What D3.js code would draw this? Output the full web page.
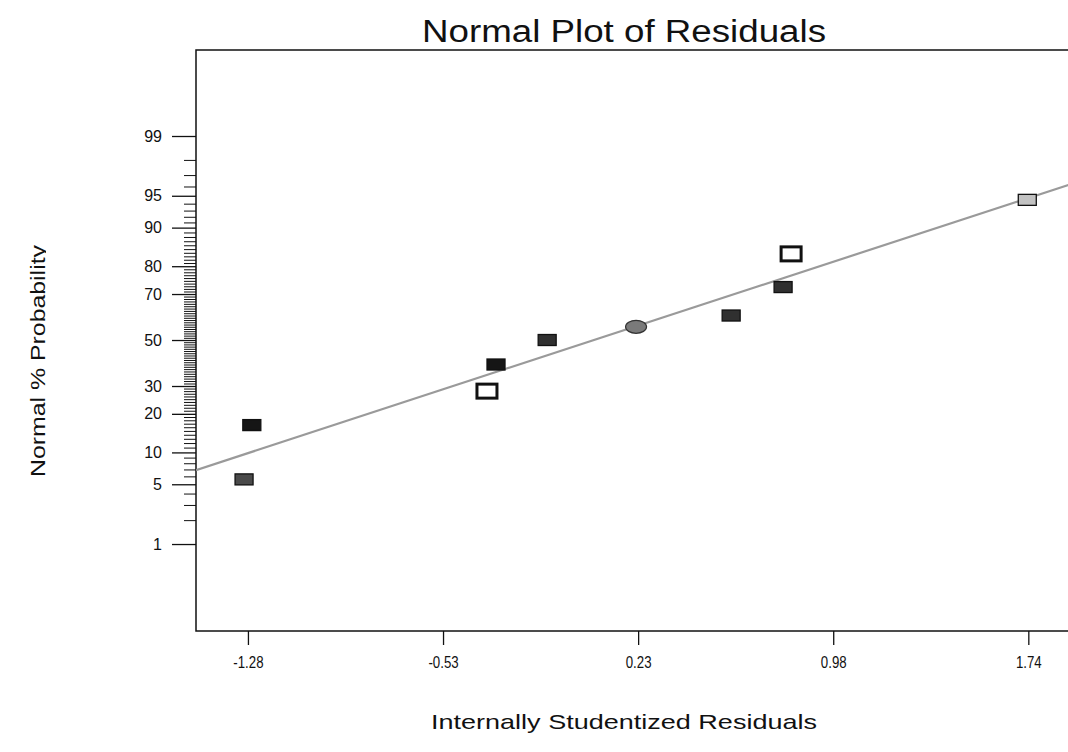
<!DOCTYPE html>
<html>
<head>
<meta charset="utf-8">
<script src="https://cdn.jsdelivr.net/npm/d3@7"></script>
<style>
  body { margin: 0; background: #fff; }
  text { font-family: "Liberation Sans", Arial, sans-serif; fill: #111; }
</style>
</head>
<body>
<script>
// Residuals (x) and their normal % probability (y)
const residuals = [-1.295, -1.265, -0.355, -0.32, -0.122, 0.222, 0.59, 0.791, 0.822, 1.736];
const probabilities = [5.6, 16.6, 28, 39, 50, 56, 61, 72.7, 83.7, 94.5];
// marker kind for each point (Design-Expert colours points by level)
const pointKind = ["dark3", "dark1", "open", "dark1", "dark2", "centre", "dark2", "dark2", "open", "light"];

// reference line, two ends
const lineX = [-1.481, 1.94];
const lineP = [6.9, 96.5];

// axis ticks
const xTickValues = [-1.28, -0.525, 0.23, 0.985, 1.74];
const xTickLabels = ["-1.28", "-0.53", "0.23", "0.98", "1.74"];
const yMajorP = [1, 5, 10, 20, 30, 50, 70, 80, 90, 95, 99];
const yMinorP = d3.range(2, 99).filter(p => !yMajorP.includes(p));

const width = 1068, height = 752;
const plotL = 196, plotT = 50, plotR = 1080, plotB = 631;

// inverse normal cdf (Acklam) so the y axis is a probability scale
function probit(p) {
  const a = [-39.69683028665376, 220.9460984245205, -275.9285104469687, 138.3577518672690, -30.66479806614716, 2.506628277459239];
  const b = [-54.47609879822406, 161.5858368580409, -155.6989798598866, 66.80131188771972, -13.28068155288572];
  const c = [-0.007784894002430293, -0.3223964580411365, -2.400758277161838, -2.549732539343734, 4.374664141464968, 2.938163982698783];
  const d = [0.007784695709041462, 0.3224671290700398, 2.445134137142996, 3.754408661907416];
  const pl = 0.02425;
  let q, r;
  if (p < pl) {
    q = Math.sqrt(-2 * Math.log(p));
    return (((((c[0]*q+c[1])*q+c[2])*q+c[3])*q+c[4])*q+c[5]) / ((((d[0]*q+d[1])*q+d[2])*q+d[3])*q+1);
  }
  if (p > 1 - pl) {
    q = Math.sqrt(-2 * Math.log(1 - p));
    return -(((((c[0]*q+c[1])*q+c[2])*q+c[3])*q+c[4])*q+c[5]) / ((((d[0]*q+d[1])*q+d[2])*q+d[3])*q+1);
  }
  q = p - 0.5; r = q * q;
  return (((((a[0]*r+a[1])*r+a[2])*r+a[3])*r+a[4])*r+a[5])*q / (((((b[0]*r+b[1])*r+b[2])*r+b[3])*r+b[4])*r+1);
}

const x = d3.scaleLinear().domain([-1.481, 1.94]).range([plotL, plotR]);
const z = d3.scaleLinear().domain([-3.318, 3.307]).range([plotB, plotT]);
const y = p => z(probit(p / 100));

const fills = d3.scaleOrdinal()
  .domain(["dark1", "dark2", "dark3", "open", "centre", "light"])
  .range(["#151515", "#303030", "#4a4a4a", "#ffffff", "#7a7a7a", "#c2c2c2"]);

const svg = d3.select("body").append("svg")
  .attr("width", width)
  .attr("height", height);

svg.append("rect").attr("width", width).attr("height", height).attr("fill", "#fff");

const defs = svg.append("defs");
defs.append("clipPath").attr("id", "plotclip")
  .append("rect").attr("x", plotL).attr("y", plotT).attr("width", plotR - plotL).attr("height", plotB - plotT);
defs.append("clipPath").attr("id", "ylabclip")
  .append("rect").attr("x", 0).attr("y", 0).attr("width", 46).attr("height", height);

// title
svg.append("text")
  .attr("x", 624).attr("y", 42)
  .attr("text-anchor", "middle")
  .attr("font-size", 31)
  .attr("textLength", 404).attr("lengthAdjust", "spacingAndGlyphs")
  .text("Normal Plot of Residuals");

// y axis: minor then major ticks
svg.append("g")
  .attr("transform", `translate(${plotL},0)`)
  .call(d3.axisLeft(z).tickValues(yMinorP.map(p => probit(p / 100))).tickSize(12).tickFormat(""))
  .call(g => g.select(".domain").remove())
  .call(g => g.selectAll("line").attr("stroke", "#111"));

svg.append("g")
  .attr("transform", `translate(${plotL},0)`)
  .call(d3.axisLeft(z).tickValues(yMajorP.map(p => probit(p / 100))).tickSize(24).tickPadding(10)
    .tickFormat((d, i) => yMajorP[i]))
  .call(g => g.select(".domain").remove())
  .call(g => g.selectAll("line").attr("stroke", "#111").attr("stroke-width", 1.3))
  .call(g => g.selectAll("text").attr("font-size", 16).attr("fill", "#222")
    .style("font-family", "'Liberation Sans', Arial, sans-serif"));

// x axis (labels are drawn narrow, as in the original)
svg.append("g")
  .attr("transform", `translate(0,${plotB})`)
  .call(d3.axisBottom(x).tickValues(xTickValues).tickSize(14).tickPadding(11)
    .tickFormat((d, i) => xTickLabels[i]))
  .call(g => g.select(".domain").remove())
  .call(g => g.selectAll("line").attr("stroke", "#111").attr("stroke-width", 1.3))
  .call(g => g.selectAll("text").attr("font-size", 17).attr("fill", "#222")
    .attr("transform", "scale(0.78,1)")
    .style("font-family", "'Liberation Sans', Arial, sans-serif"));

// plot frame
svg.append("rect")
  .attr("x", plotL).attr("y", plotT)
  .attr("width", plotR - plotL).attr("height", plotB - plotT)
  .attr("fill", "none").attr("stroke", "#111").attr("stroke-width", 1.5);

// fitted normal line
svg.append("path")
  .attr("clip-path", "url(#plotclip)")
  .attr("d", d3.line().x((d, i) => x(d)).y((d, i) => y(lineP[i]))(lineX))
  .attr("fill", "none").attr("stroke", "#9a9a9a").attr("stroke-width", 2.2);

// points
const pts = svg.append("g").selectAll("g")
  .data(residuals.map((r, i) => ({ r, p: probabilities[i], kind: pointKind[i] })))
  .join("g")
  .attr("transform", d => `translate(${x(d.r)},${y(d.p)})`);

pts.filter(d => d.kind === "centre").append("ellipse")
  .attr("rx", 10.5).attr("ry", 6.5)
  .attr("fill", d => fills(d.kind)).attr("stroke", "#333").attr("stroke-width", 1.2);

pts.filter(d => d.kind === "open").append("rect")
  .attr("x", -10).attr("y", -7).attr("width", 20).attr("height", 14)
  .attr("fill", "#fff").attr("stroke", "#111").attr("stroke-width", 3);

pts.filter(d => d.kind !== "centre" && d.kind !== "open").append("rect")
  .attr("x", -9).attr("y", -5.5).attr("width", 18).attr("height", 11)
  .attr("fill", d => fills(d.kind)).attr("stroke", "#111").attr("stroke-width", 1.3);

// axis titles
svg.append("text")
  .attr("x", 624).attr("y", 729)
  .attr("text-anchor", "middle")
  .attr("font-size", 21)
  .attr("textLength", 386).attr("lengthAdjust", "spacingAndGlyphs")
  .text("Internally Studentized Residuals");

svg.append("g").attr("clip-path", "url(#ylabclip)")
  .append("text")
  .attr("transform", "translate(45,361) rotate(-90)")
  .attr("text-anchor", "middle")
  .attr("font-size", 20)
  .attr("textLength", 232).attr("lengthAdjust", "spacingAndGlyphs")
  .text("Normal % Probability");
</script>
</body>
</html>
